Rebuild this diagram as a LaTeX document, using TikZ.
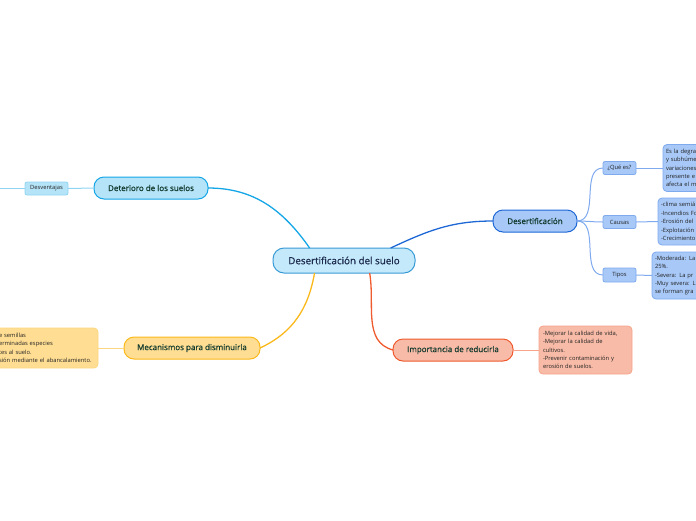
\documentclass[tikz,border=0pt]{standalone}
\usepackage{fontspec}
\setmainfont{Open Sans}
\newfontfamily\mapheavy{Open Sans}[FakeBold=0.7]
\definecolor{mapRootFill}{HTML}{C4E9FB}
\definecolor{mapRootLine}{HTML}{3A9AD6}
\definecolor{mapCyanFill}{HTML}{B5E4F8}
\definecolor{mapCyanLine}{HTML}{14A6E6}
\definecolor{mapCyanSoft}{HTML}{8FD4F2}
\definecolor{mapBlueFill}{HTML}{A8C9F8}
\definecolor{mapBlueLine}{HTML}{1E68D6}
\definecolor{mapBlueSoft}{HTML}{7FAAEE}
\definecolor{mapAmberFill}{HTML}{FFDE93}
\definecolor{mapAmberLine}{HTML}{FBB81B}
\definecolor{mapAmberSoft}{HTML}{FCD680}
\definecolor{mapCoralFill}{HTML}{F8BBA7}
\definecolor{mapCoralLine}{HTML}{EF5A2E}
\definecolor{mapCoralSoft}{HTML}{F5A48A}
\definecolor{mapInk}{HTML}{1C2A4C}
\definecolor{mapGreen}{HTML}{123A2E}
\definecolor{mapText}{HTML}{222222}
\tikzset{
  map diagram/.style={
    line width=1pt,
    every node/.style={inner sep=0pt, outer sep=0pt, align=center}
  },
  map root/.style={draw=mapRootLine, fill=mapRootFill, line width=1pt,
    rounded corners=11pt, minimum width=142pt, minimum height=25pt,
    font=\mapheavy\fontsize{9.8}{12}\selectfont, text=mapInk},
  map topic/.style={draw, line width=1pt, rounded corners=10pt,
    minimum height=22pt, font=\mapheavy\fontsize{8}{9.8}\selectfont, text=mapGreen},
  map tag/.style={draw=mapBlueSoft, fill=mapBlueFill, line width=0.8pt,
    rounded corners=2pt, minimum width=33pt, minimum height=13pt,
    font=\fontsize{5.8}{7}\selectfont, text=mapText},
  map note/.style={line width=0.8pt, rounded corners=4pt, inner sep=3pt,
    minimum height=47pt, align=left,
    font=\fontsize{5.8}{8.4}\selectfont, text=mapText},
  map link/.style={line width=1.3pt},
  map twig/.style={line width=1pt}
}

\begin{document}
\begin{tikzpicture}[map diagram,x=1pt,y=1pt]
  \useasboundingbox (0,0) rectangle (696,-520);
  \clip (0,0) rectangle (696,-520);

  % central topic and main branches
  \node[map root] (suelo) at (344,-260.5) {Desertificación del suelo};
  \node[map topic, draw=mapCyanLine, fill=mapCyanFill, minimum width=114pt]
    (deterioro) at (151,-188) {Deterioro de los suelos};
  \node[map topic, draw=mapBlueLine, fill=mapBlueFill, minimum width=84pt]
    (desert) at (535,-221) {Desertificación};
  \node[map topic, draw=mapAmberLine, fill=mapAmberFill, minimum width=136pt]
    (mecanismos) at (192,-348) {Mecanismos para disminuirla};
  \node[map topic, draw=mapCoralLine, fill=mapCoralFill, minimum width=120pt]
    (importancia) at (453,-350) {Importancia de reducirla};

  % subtopics
  \node[map tag, draw=mapCyanSoft, fill=mapCyanFill, minimum width=43pt]
    (desventajas) at (46.5,-188.5) {Desventajas};
  \node[map tag] (quees) at (619.5,-168) {¿Qué es?};
  \node[map tag] (causas) at (619.5,-222) {Causas};
  \node[map tag, minimum height=14pt] (tipos) at (619.5,-275) {Tipos};

  % notes
  \node[map note, draw=mapBlueSoft, fill=mapBlueFill, anchor=west, text width=74pt]
    (queesNota) at (663,-168) {Es la degra\\y subhúme\\variaciones\\presente e\\afecta el m};
  \node[map note, draw=mapBlueSoft, fill=mapBlueFill, anchor=west, text width=74pt]
    (causasNota) at (658,-221.5)
    {-clima semiá\\-Incendios Fo\\-Erosión del\\-Explotación\\-Crecimiento};
  \node[map note, draw=mapBlueSoft, fill=mapBlueFill, anchor=west, text width=74pt]
    (tiposNota) at (652,-275.5)
    {-Moderada: La\\25\%.\\-Severa: La pr\\-Muy severa: L\\se forman gra};
  \node[map note, draw=mapAmberSoft, fill=mapAmberFill, anchor=east,
    text width=96pt, minimum height=40pt]
    (mecanismosNota) at (98,-348)
    {e semillas\\erminadas especies\\tes al suelo.\\sión mediante el abancalamiento.};
  \node[map note, draw=mapCoralSoft, fill=mapCoralFill, anchor=west,
    text width=85pt, inner sep=4pt, minimum height=48pt]
    (importanciaNota) at (539,-350)
    {-Mejorar la calidad de vida,\\-Mejorar la calidad de\\cultivos.\\-Prevenir contaminación y\\erosión de suelos.};

  % connectors
  \draw[map link, draw=mapCyanLine] (suelo.160) to[out=125, in=0] (deterioro.east);
  \draw[map link, draw=mapBlueLine] (suelo.15) to[out=25, in=180] (desert.west);
  \draw[map link, draw=mapAmberLine] (suelo.203) to[out=-100, in=25] (mecanismos.east);
  \draw[map link, draw=mapCoralLine] (suelo.-26) to[out=-80, in=165] (importancia.west);

  \draw[map twig, draw=mapBlueSoft] (desert.east) to[out=0, in=180] (quees.west);
  \draw[map twig, draw=mapBlueSoft] (desert.east) to[out=0, in=180] (causas.west);
  \draw[map twig, draw=mapBlueSoft] (desert.east) to[out=0, in=180] (tipos.west);
  \draw[map twig, draw=mapBlueSoft] (quees.east) -- (queesNota.west);
  \draw[map twig, draw=mapBlueSoft] (causas.east) -- (causasNota.west);
  \draw[map twig, draw=mapBlueSoft] (tipos.east) -- (tiposNota.west);

  \coordinate (desventajasHoja) at (-10,-188.5);
  \draw[map twig, draw=mapCyanSoft] (desventajasHoja) -- (desventajas.west);
  \draw[map twig, draw=mapCyanSoft] (desventajas.east) -- (deterioro.west);
  \draw[map twig, draw=mapAmberSoft] (mecanismosNota.east) -- (mecanismos.west);
  \draw[map twig, draw=mapCoralSoft] (importancia.east) -- (importanciaNota.west);
\end{tikzpicture}
\end{document}
